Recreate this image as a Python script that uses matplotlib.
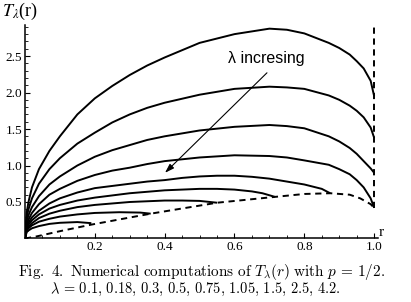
import numpy as np
import matplotlib.pyplot as plt
from matplotlib.ticker import MultipleLocator

plt.rcParams['mathtext.fontset'] = 'stix'

# values (r, T_lambda(r)) for each lambda
r_full = [0, 0.005, 0.01, 0.02, 0.04, 0.07, 0.1, 0.15, 0.2, 0.25, 0.3, 0.35,
          0.4, 0.5, 0.6, 0.7, 0.75, 0.8, 0.87, 0.9, 0.93, 0.95, 0.97, 0.99, 1.0]
T_01 = [0, 0.36, 0.5, 0.7, 0.95, 1.2, 1.40, 1.70, 1.92, 2.09, 2.24, 2.37,
        2.48, 2.68, 2.80, 2.875, 2.86, 2.81, 2.68, 2.61, 2.52, 2.43, 2.33, 2.16, 1.95]
T_018 = [0, 0.3, 0.4, 0.55, 0.75, 0.95, 1.1, 1.3, 1.45, 1.59, 1.70, 1.79,
         1.86, 1.97, 2.05, 2.08, 2.07, 2.05, 1.96, 1.90, 1.82, 1.75, 1.66, 1.52, 1.38]
T_03 = [0, 0.25, 0.32, 0.43, 0.58, 0.74, 0.85, 1.0, 1.12, 1.21, 1.28, 1.35,
        1.40, 1.48, 1.53, 1.555, 1.54, 1.51, 1.40, 1.33, 1.24, 1.16, 1.06, 0.96, 0.90]
T_05 = [0, 0.2, 0.26, 0.35, 0.47, 0.6, 0.68, 0.79, 0.87, 0.93, 0.97, 1.02,
        1.06, 1.11, 1.14, 1.13, 1.11, 1.07, 1.01, 0.95, 0.88, 0.80, 0.70, 0.55, 0.42]

r_075 = [0, 0.005, 0.01, 0.02, 0.04, 0.07, 0.1, 0.15, 0.2, 0.25, 0.3, 0.35, 0.4,
         0.45, 0.5, 0.55, 0.6, 0.65, 0.7, 0.75, 0.8, 0.85, 0.874]
T_075 = [0, 0.17, 0.22, 0.29, 0.38, 0.48, 0.55, 0.63, 0.69, 0.72, 0.75, 0.78, 0.80,
         0.83, 0.85, 0.86, 0.86, 0.845, 0.82, 0.78, 0.74, 0.68, 0.62]

r_105 = [0, 0.005, 0.01, 0.02, 0.04, 0.07, 0.1, 0.15, 0.2, 0.25, 0.3, 0.35, 0.4,
         0.45, 0.5, 0.55, 0.6, 0.65, 0.68, 0.716]
T_105 = [0, 0.15, 0.19, 0.25, 0.33, 0.41, 0.46, 0.52, 0.56, 0.59, 0.62, 0.64, 0.66,
         0.67, 0.68, 0.68, 0.67, 0.645, 0.62, 0.57]

r_15 = [0, 0.005, 0.01, 0.02, 0.04, 0.07, 0.1, 0.15, 0.2, 0.25, 0.3, 0.35, 0.4,
        0.45, 0.5, 0.55]
T_15 = [0, 0.13, 0.16, 0.21, 0.28, 0.34, 0.38, 0.43, 0.46, 0.48, 0.50, 0.51, 0.52,
        0.52, 0.515, 0.49]

r_25 = [0, 0.005, 0.01, 0.02, 0.04, 0.07, 0.1, 0.15, 0.2, 0.27, 0.33, 0.36]
T_25 = [0, 0.11, 0.14, 0.18, 0.23, 0.27, 0.30, 0.33, 0.35, 0.36, 0.355, 0.34]

r_42 = [0, 0.005, 0.01, 0.02, 0.04, 0.07, 0.1, 0.15, 0.19]
T_42 = [0, 0.09, 0.11, 0.14, 0.17, 0.20, 0.215, 0.225, 0.21]

# dashed line through the end points
r_end = [0, 0.03, 0.1, 0.19, 0.36, 0.55, 0.716, 0.8, 0.874, 0.93, 0.96, 0.99, 1.0]
T_end = [0, 0.025, 0.1, 0.19, 0.34, 0.49, 0.57, 0.61, 0.62, 0.6, 0.55, 0.47, 0.42]

curves = [(r_full, T_01), (r_full, T_018), (r_full, T_03), (r_full, T_05),
          (r_075, T_075), (r_105, T_105), (r_15, T_15), (r_25, T_25), (r_42, T_42)]

fig = plt.figure(figsize=(4.11, 3.02), dpi=100)
ax = fig.add_axes([0.0608, 0.2103, 0.8589, 0.7069])

for r, T in curves:
    ax.plot(r, T, color='black', lw=1.4, solid_capstyle='butt',
            solid_joinstyle='round')

ax.plot(r_end, T_end, color='black', lw=1.4, dashes=(3.2, 2.4))
ax.plot([1.0, 1.0], [T_end[-1], 2.92], color='black', lw=1.4, dashes=(3.2, 2.4))

ax.set_xlim(0, 1.011)
ax.set_ylim(0, 2.925)
for s in ['top', 'right']:
    ax.spines[s].set_visible(False)
for s in ['left', 'bottom']:
    ax.spines[s].set_linewidth(1.1)

ax.set_xticks([0.2, 0.4, 0.6, 0.8, 1.0])
ax.set_xticklabels(['0.2', '0.4', '0.6', '0.8', '1.0'])
ax.set_yticks([0.5, 1.0, 1.5, 2.0, 2.5])
ax.set_yticklabels(['0.5', '1.0', '1.5', '2.0', '2.5'])
ax.xaxis.set_minor_locator(MultipleLocator(0.05))
ax.yaxis.set_minor_locator(MultipleLocator(0.1))
ax.tick_params(which='major', direction='in', length=3.5, width=0.8, pad=2,
               labelsize=9.5, labelfontfamily='Liberation Serif')
ax.tick_params(which='minor', direction='in', length=2, width=0.6)

ax.text(-0.065, 2.97, r'$T_\lambda$(r)', fontsize=13, family='Liberation Serif',
        ha='left', va='bottom', clip_on=False)
ax.text(1.013, -0.01, 'r', fontsize=11, family='Liberation Serif',
        ha='left', va='bottom', clip_on=False)

ax.annotate('', xy=(0.401, 0.90), xytext=(0.693, 2.27),
            arrowprops=dict(arrowstyle='-|>,head_length=0.55,head_width=0.18',
                            color='black', lw=0.8, shrinkA=0, shrinkB=0))
ax.text(0.69, 2.47, 'λ incresing', fontsize=11.5, family='Liberation Sans',
        ha='center', va='center')

fig.text(0.49, 0.099, r'$\mathrm{Fig.\ 4.\ Numerical\ computations\ of\ }T_\lambda(r)'
         r'\mathrm{\ with\ }p\, =\, 1/2.$', ha='center', va='center', fontsize=11,
         math_fontfamily='cm')
fig.text(0.474, 0.04,
         r'$\lambda\, =\, 0.1,\, 0.18,\, 0.3,\, 0.5,\, 0.75,\, 1.05,\, 1.5,\, 2.5,\, 4.2.$',
         ha='center', va='center', fontsize=10.4, math_fontfamily='cm')

fig.savefig('out.png', dpi=100)
